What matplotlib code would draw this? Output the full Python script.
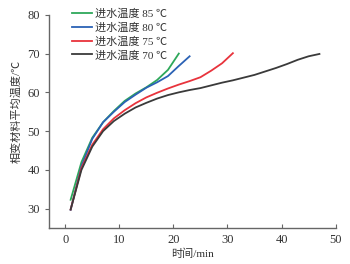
import matplotlib
matplotlib.use("Agg")
import matplotlib.pyplot as plt

plt.rcParams['font.family'] = ['Liberation Serif', 'Noto Sans CJK SC', 'DejaVu Sans']

t85 = [1, 3, 5, 7, 9, 11, 13, 15, 17, 19, 21]
T85 = [32.3, 42.0, 48.3, 52.3, 55.2, 57.8, 59.7, 61.3, 63.2, 65.8, 70.0]
t80 = [1, 3, 5, 7, 9, 11, 13, 15, 17, 19, 21, 23]
T80 = [29.7, 41.0, 48.0, 52.3, 55.0, 57.5, 59.4, 61.2, 62.6, 64.2, 66.8, 69.3]
t75 = [1, 3, 5, 7, 9, 11, 13, 15, 17, 19, 21, 23, 25, 27, 29, 31]
T75 = [29.8, 40.5, 46.5, 50.5, 53.3, 55.4, 57.2, 58.7, 59.9, 61.0, 62.0, 62.9, 63.9, 65.6, 67.5, 70.1]
t70 = [1, 3, 5, 7, 9, 11, 13, 15, 17, 19, 21, 23, 25, 27, 29, 31, 33, 35, 37, 39, 41, 43, 45, 47]
T70 = [29.8, 40.0, 46.0, 50.0, 52.6, 54.5, 56.1, 57.3, 58.4, 59.3, 60.0, 60.6, 61.1, 61.8, 62.5,
       63.1, 63.8, 64.5, 65.4, 66.3, 67.3, 68.4, 69.3, 69.9]
labels = ['进水温度 85 ℃', '进水温度 80 ℃', '进水温度 75 ℃', '进水温度 70 ℃']
colors = ['#2ea85a', '#2b62b5', '#e8333c', '#3a3a3a']
xticks = [0, 10, 20, 30, 40, 50]
yticks = [30, 40, 50, 60, 70, 80]

fig = plt.figure(figsize=(3.5, 2.64), dpi=100)
ax = fig.add_axes([0.14, 0.136, 0.819, 0.808])
for (x, y), lab, c in zip([(t85, T85), (t80, T80), (t75, T75), (t70, T70)], labels, colors):
    ax.plot(x, y, color=c, lw=1.3, label=lab)

ax.set_xlim(-3, 50)
ax.set_ylim(25, 80)
ax.set_xticks(xticks)
ax.set_yticks(yticks)
for s in ['top', 'right']:
    ax.spines[s].set_visible(False)
for s in ['left', 'bottom']:
    ax.spines[s].set_color('#666666')
    ax.spines[s].set_linewidth(1.0)
ax.tick_params(axis='x', direction='in', length=3, color='#666666', labelsize=9, colors='#333333', pad=4)
ax.tick_params(axis='y', direction='out', length=3, color='#666666', labelsize=9, colors='#333333')
ax.set_xlabel('时间/min', fontsize=8, color='#333333', labelpad=2)
ax.set_ylabel('相变材料平均温度/℃', fontsize=8, color='#333333')
ax.yaxis.set_label_coords(-0.094, 0.548)

leg = ax.legend(loc='upper left', bbox_to_anchor=(0.079, 1.03), frameon=False,
                fontsize=8, handlelength=1.8, handletextpad=0.3, labelspacing=0.3,
                borderpad=0, borderaxespad=0)
for txt in leg.get_texts():
    txt.set_color('#333333')

fig.savefig('out.png', dpi=100)
